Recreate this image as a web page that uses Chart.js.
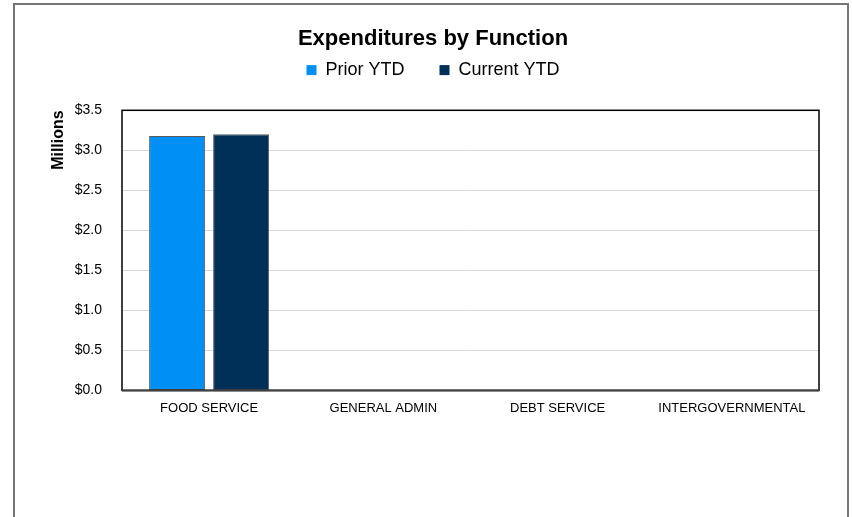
<!DOCTYPE html>
<html>
<head>
<meta charset="utf-8">
<script src="https://cdn.jsdelivr.net/npm/chart.js@4/dist/chart.umd.min.js"></script>
<style>
  html, body { margin: 0; padding: 0; background: #ffffff; }
  #wrap { position: absolute; left: 0; top: 0; width: 852px; height: 517px; }
</style>
</head>
<body>
<div id="wrap"><canvas id="chart" width="852" height="517"></canvas></div>
<script>
// Expenditures by function, in millions of dollars
const categories = ['FOOD SERVICE', 'GENERAL ADMIN', 'DEBT SERVICE', 'INTERGOVERNMENTAL'];
const priorYTD   = [3.18, 0, 0, 0];
const currentYTD = [3.20, 0, 0.002, 0];
const yTicks     = [0, 0.5, 1.0, 1.5, 2.0, 2.5, 3.0, 3.5];

const FONT = '"Liberation Sans", Arial, sans-serif';

// Outer frame around the whole chart and the box around the plot area
const framePlugin = {
  id: 'frames',
  beforeDraw(chart) {
    const ctx = chart.ctx;
    ctx.save();
    ctx.fillStyle = '#ffffff';
    ctx.fillRect(0, 0, chart.width, chart.height);
    ctx.strokeStyle = '#767676';
    ctx.lineWidth = 2;
    ctx.strokeRect(14, 4, 834, 600);
    ctx.restore();
  },
  afterDatasetsDraw(chart) {
    const a = chart.chartArea;
    const ctx = chart.ctx;
    ctx.save();
    ctx.strokeStyle = '#000000';
    ctx.lineWidth = 1.5;
    ctx.strokeRect(a.left, a.top, a.right - a.left, a.bottom - a.top);
    ctx.strokeStyle = '#404040';
    ctx.lineWidth = 2;
    ctx.beginPath();
    ctx.moveTo(a.left, a.bottom);
    ctx.lineTo(a.right, a.bottom);
    ctx.stroke();
    ctx.restore();
  }
};

new Chart(document.getElementById('chart'), {
  type: 'bar',
  data: {
    labels: categories,
    datasets: [
      {
        label: 'Prior YTD',
        data: priorYTD,
        backgroundColor: '#0090F5',
        borderColor: '#5a5a5a',
        borderWidth: 1,
        borderSkipped: false,
        barPercentage: 0.875,
        categoryPercentage: 0.735
      },
      {
        label: 'Current YTD',
        data: currentYTD,
        backgroundColor: '#003057',
        borderColor: '#5a5a5a',
        borderWidth: 1,
        borderSkipped: false,
        barPercentage: 0.875,
        categoryPercentage: 0.735
      }
    ]
  },
  options: {
    responsive: false,
    animation: false,
    layout: { padding: { left: 47, right: 33, top: 26, bottom: 91 } },
    plugins: {
      tooltip: { enabled: false },
      title: {
        display: true,
        text: 'Expenditures by Function',
        color: '#000000',
        font: { family: FONT, size: 22, weight: 'bold' },
        padding: { top: 0, bottom: -26.3 }
      },
      // empty spacer between the legend and the plot area
      subtitle: {
        display: true,
        text: '',
        weight: 500,
        font: { family: FONT, size: 10 },
        padding: { top: 9.2, bottom: 0 }
      },
      legend: {
        display: true,
        position: 'top',
        labels: {
          color: '#000000',
          font: { family: FONT, size: 18 },
          boxWidth: 10,
          boxHeight: 10,
          padding: 35,
          generateLabels(chart) {
            return chart.data.datasets.map((ds, i) => ({
              text: ds.label,
              fillStyle: ds.backgroundColor,
              strokeStyle: ds.backgroundColor,
              lineWidth: 0,
              datasetIndex: i,
              hidden: false
            }));
          }
        }
      }
    },
    scales: {
      x: {
        grid: { display: false, drawTicks: false },
        border: { display: false },
        ticks: {
          color: '#000000',
          font: { family: FONT, size: 13 },
          padding: 10,
          maxRotation: 0,
          autoSkip: false
        }
      },
      y: {
        min: 0,
        max: 3.5,
        afterFit(scale) { scale.width = 75; },
        afterBuildTicks(scale) { scale.ticks = yTicks.map(v => ({ value: v })); },
        grid: { color: '#d9d9d9', lineWidth: 1, drawTicks: false },
        border: { display: false },
        title: {
          display: true,
          text: 'Millions',
          align: 'end',
          color: '#000000',
          font: { family: FONT, size: 16, weight: 'bold' },
          padding: { top: 2, bottom: 0 }
        },
        ticks: {
          color: '#000000',
          font: { family: FONT, size: 14 },
          padding: 20,
          callback: v => '$' + Number(v).toFixed(1)
        }
      }
    }
  },
  plugins: [framePlugin]
});
</script>
</body>
</html>
